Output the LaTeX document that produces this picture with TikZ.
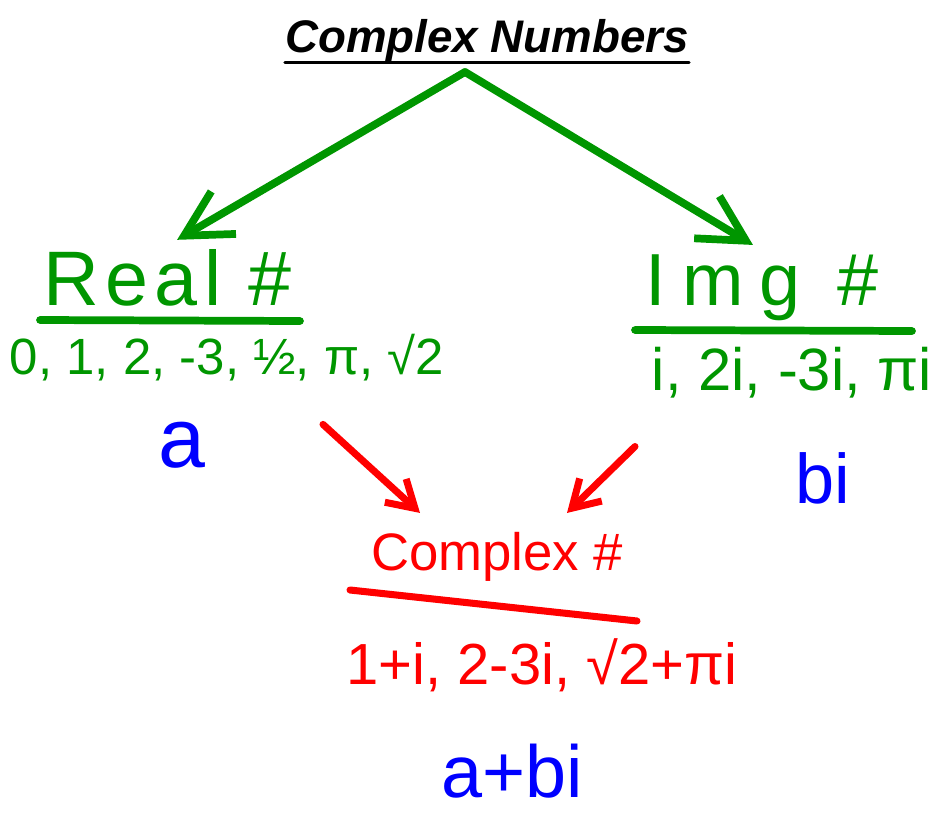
\documentclass[tikz,border=0pt]{standalone}
\usepackage{fontspec}
\setmainfont{Liberation Sans}
\usetikzlibrary{arrows.meta}

\definecolor{penGreen}{RGB}{0,150,0}
\definecolor{penRed}{RGB}{255,0,0}
\definecolor{penBlue}{RGB}{0,0,255}
\newcommand{\pen}[1]{\fontsize{#1}{#1}\selectfont}

\begin{document}
\begin{tikzpicture}[x=0.02cm, y=-0.02cm, line cap=round, line join=round,
    hand/.style={inner sep=2pt, anchor=base},
    garrow/.style={penGreen, line width=4.4pt,
        -{Straight Barb[length=26pt, width=28pt]}},
    rarrow/.style={penRed, line width=4pt,
        -{Straight Barb[length=15pt, width=18pt]}}]

    \useasboundingbox (0,0) rectangle (950,818);

    % title
    \node[inner sep=0pt, anchor=base, font=\pen{26}\bfseries\itshape]
        (title) at (487,52) {Complex Numbers};
    \draw[line width=1.7pt] ([yshift=-0.5pt]title.south west)
        -- ([yshift=-0.5pt]title.south east);
    \coordinate (apex) at (465,72);

    % real and imaginary
    \node[hand, penGreen, font={\pen{44}\addfontfeatures{LetterSpace=8}}]
        (real) at (168,305) {Real \#};
    \node[hand, penGreen, font={\pen{42}\addfontfeatures{LetterSpace=22}}]
        (img) at (762,305) {Img \#};
    \draw[penGreen, line width=4.4pt] (40,320) -- (300,321);
    \draw[penGreen, line width=4.4pt] (635,330) -- (912,331);

    \draw[garrow, shorten >=6pt] (apex) -- (real.north);
    \draw[garrow, shorten >=6pt] (apex) -- (img.north);

    \node[hand, penGreen, font=\pen{29}]
        (reals) at (227,374) {0, 1, 2, -3, ½, π, √2};
    \node[hand, penGreen, font=\pen{34}]
        (imgs) at (792,390) {i, 2i, -3i, πi};

    \node[hand, penBlue, font=\pen{48}] (a) at (182,467) {a};
    \node[hand, penBlue, font=\pen{40}] (bi) at (823,503) {bi};

    % complex
    \node[hand, penRed, font=\pen{30}]
        (complex) at (497,570) {Complex \#};
    \draw[penRed, line width=4pt] (350,590) -- (637,621);
    \node[hand, penRed, font=\pen{33}]
        (cplx) at (542,684) {1+i, 2-3i, √2+πi};
    \node[hand, penBlue, font=\pen{42}] (abi) at (512,797) {a+bi};

    \draw[rarrow] ([shift={(96,40)}]reals.south) -- ([shift={(-77,-15)}]complex.north);
    \draw[rarrow] ([shift={(-157,45)}]imgs.south) -- ([shift={(70,-15)}]complex.north);
\end{tikzpicture}
\end{document}
